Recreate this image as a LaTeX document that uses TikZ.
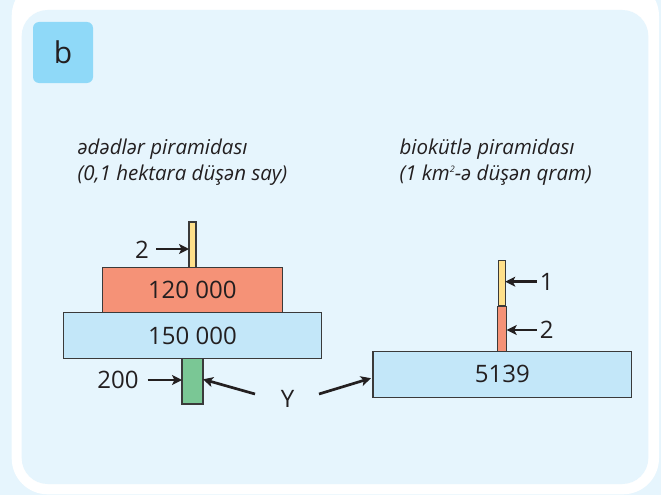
\documentclass[tikz,border=0pt]{standalone}
\usepackage{fontspec}
\setmainfont{Open Sans}
\usetikzlibrary{arrows.meta}
\definecolor{bgblue}{HTML}{E6F5FD}
\definecolor{tagblue}{HTML}{8FD9F8}
\definecolor{boxblue}{HTML}{C3E7F9}
\definecolor{boxorange}{HTML}{F59277}
\definecolor{boxyellow}{HTML}{FFE08A}
\definecolor{boxgreen}{HTML}{7AC795}
\definecolor{edge}{HTML}{3A3A3A}
\definecolor{txt}{HTML}{231F20}
\tikzset{
  bar/.style={draw=edge, line width=1.1pt, inner sep=0pt, outer sep=0pt},
  num/.style={font=\fontsize{24}{28}\selectfont, text=txt, inner sep=0pt},
  captxt/.style={font=\fontsize{20.5}{24}\selectfont\itshape, text=txt, inner sep=0pt, anchor=base west},
  arr/.style={draw=txt, line width=2.7pt, -{Stealth[length=10pt,width=10pt,inset=2.5pt]}},
}
\begin{document}
\begin{tikzpicture}[x=1pt,y=-1pt]
\useasboundingbox (0,0) rectangle (661,495);
\fill[bgblue] (0,0) rectangle (661,495);
\fill[white, rounded corners=36pt] (11.7,-20) rectangle (659,494.3);
\fill[bgblue, rounded corners=26pt] (21.7,10) rectangle (648.3,484);
% tag
\node[fill=tagblue, rounded corners=6pt, minimum width=60pt, minimum height=61pt, inner sep=0pt,
      font=\fontsize{30}{34}\selectfont, text=txt] (tag) at (63,52.5) {b};
% captions
\node[captxt] (c1) at (77.3,154) {ədədlər piramidası};
\node[captxt] (c2) at (77.3,180) {(0,1 hektara düşən say)};
\node[captxt] (c3) at (399.3,154) {biokütlə piramidası};
\node[captxt] (c4) at (399.3,180) {(1 km\raisebox{8pt}{\fontsize{9}{10}\selectfont 2}-ə düşən qram)};
% left pyramid
\node[bar, fill=boxyellow, minimum width=7pt, minimum height=46pt] (yel1) at (192.5,245) {};
\node[bar, fill=boxorange, minimum width=180pt, minimum height=45pt, num] (or1) at (192.3,290.2) {120 000};
\node[bar, fill=boxblue, minimum width=258.4pt, minimum height=46pt, num] (bl1) at (192.5,335.7) {150 000};
\node[bar, fill=boxgreen, minimum width=21pt, minimum height=45.3pt] (gr1) at (192.5,381.3) {};
% right pyramid
\node[bar, fill=boxyellow, minimum width=6.6pt, minimum height=45.3pt] (yel2) at (502,283.3) {};
\node[bar, fill=boxorange, minimum width=9.4pt, minimum height=45.3pt] (or2) at (502,328.7) {};
\node[bar, fill=boxblue, minimum width=258.7pt, minimum height=45.7pt, num] (bl2) at (502.3,374.2) {5139};
% labels
\node[num] (l2) at (142,250) {2};
\node[num] (l200) at (118,380) {200};
\node[num] (ly) at (287.5,399) {Y};
\node[num] (r1) at (546.7,282) {1};
\node[num] (r2) at (546.7,330) {2};
\coordinate (a2) at (156,249);
\coordinate (a200) at (147.7,380);
\coordinate (ayl) at (255,394);
\coordinate (ayr) at (319,394);
\coordinate (ar1) at (536.7,281.7);
\coordinate (ar2) at (536.7,330);
% arrows
\draw[arr] (a2) -- (a2 -| yel1.west);
\draw[arr] (a200) -- (a200 -| gr1.west);
\draw[arr] (ayl) -- ([yshift=2pt]gr1.east);
\draw[arr] (ayr) -- ([yshift=-4pt,xshift=-2pt]bl2.west);
\draw[arr] (ar1) -- (ar1 -| yel2.east);
\draw[arr] (ar2) -- (ar2 -| or2.east);
\end{tikzpicture}
\end{document}
